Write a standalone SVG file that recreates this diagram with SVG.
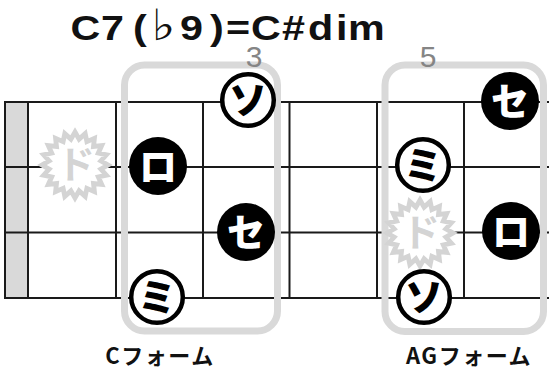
<svg xmlns="http://www.w3.org/2000/svg" width="549" height="369" viewBox="0 0 549 369">
<style>
.ln{stroke:#1a1a1a;stroke-width:2;fill:none}
.nut{fill:#d9d9d9}
.form{fill:none;stroke:#d9d9d9;stroke-width:7}
.fn{font-family:"Liberation Sans",Arial,sans-serif;font-size:30px;fill:#858585;text-anchor:middle}
.title{font-family:"Liberation Sans",Arial,sans-serif;font-weight:bold;font-size:35px;fill:#111}
.flat{font-family:"DejaVu Sans",sans-serif;font-weight:normal;font-size:43px}
.lbl{font-family:"Noto Sans CJK JP",sans-serif;font-weight:700;font-size:22px;fill:#111;text-anchor:middle;letter-spacing:1.5px}
.blk{fill:#000}
.wht{fill:#fff;stroke:#000;stroke-width:4.5}
.g{font-family:"Noto Sans CJK JP",sans-serif;font-weight:900;font-size:38px;text-anchor:middle}
.gw{fill:#fff}
.gb{fill:#000}
.star{fill:#fff;stroke:#d4d4d4;stroke-width:5}
.do{font-family:"Noto Sans CJK JP",sans-serif;font-weight:700;font-size:38px;fill:#d4d4d4;text-anchor:middle}
</style>
<defs>
<polygon id="burst" class="star" points="0,-34 4.22,-26.67 10.51,-32.34 12.26,-24.06 19.99,-27.51 19.09,-19.09 27.51,-19.99 24.06,-12.26 32.34,-10.51 26.67,-4.22 34,0 26.67,4.22 32.34,10.51 24.06,12.26 27.51,19.99 19.09,19.09 19.99,27.51 12.26,24.06 10.51,32.34 4.22,26.67 0,34 -4.22,26.67 -10.51,32.34 -12.26,24.06 -19.99,27.51 -19.09,19.09 -27.51,19.99 -24.06,12.26 -32.34,10.51 -26.67,4.22 -34,0 -26.67,-4.22 -32.34,-10.51 -24.06,-12.26 -27.51,-19.99 -19.09,-19.09 -19.99,-27.51 -12.26,-24.06 -10.51,-32.34 -4.22,-26.67"/>
</defs>
<rect width="549" height="369" fill="#fff"/>
<text class="title" y="40" transform="scale(1.18,1)"><tspan x="59.7">C</tspan><tspan x="85.6">7</tspan><tspan x="112.7">(</tspan><tspan x="128.5" class="flat">♭</tspan><tspan x="152.5">9</tspan><tspan x="178">)</tspan><tspan x="191.5">=</tspan><tspan x="212.7">C</tspan><tspan x="239">#</tspan><tspan x="261">d</tspan><tspan x="284.7">i</tspan><tspan x="295">m</tspan></text>
<g id="grid">
<rect class="nut" x="5" y="102" width="23" height="196"/>
<line class="ln" x1="4.5" y1="102" x2="549" y2="102"/>
<line class="ln" x1="4.5" y1="167" x2="549" y2="167"/>
<line class="ln" x1="4.5" y1="232.5" x2="549" y2="232.5"/>
<line class="ln" x1="4.5" y1="298" x2="549" y2="298"/>
<line class="ln" x1="5" y1="101" x2="5" y2="299"/>
<line class="ln" x1="28" y1="101" x2="28" y2="299"/>
<line class="ln" x1="116" y1="101" x2="116" y2="299"/>
<line class="ln" x1="203" y1="101" x2="203" y2="299"/>
<line class="ln" x1="289.5" y1="101" x2="289.5" y2="299"/>
<line class="ln" x1="377" y1="101" x2="377" y2="299"/>
<line class="ln" x1="464" y1="101" x2="464" y2="299"/>
</g>
<g id="form-c">
<rect class="form" x="124.5" y="65" width="153" height="266" rx="20"/>
<text class="fn" x="254" y="67">3</text>
<text class="lbl" x="160" y="364">Cフォーム</text>
</g>
<g id="form-ag">
<rect class="form" x="385" y="65" width="158.5" height="266.5" rx="20"/>
<text class="fn" x="428" y="67">5</text>
<text class="lbl" x="469" y="364">AGフォーム</text>
</g>
<g id="do-1">
<use href="#burst" transform="translate(75,165) scale(0.97)"/>
<text class="do" x="76" y="178">ド</text>
</g>
<g id="do-2">
<use href="#burst" transform="translate(420,233) scale(0.97)"/>
<text class="do" x="421" y="246">ド</text>
</g>
<g id="c-so">
<circle class="wht" cx="248" cy="100" r="25.8"/>
<text class="g gb" x="248" y="113.5">ソ</text>
</g>
<g id="c-ro">
<circle class="blk" cx="158" cy="166" r="29"/>
<text class="g gw" x="158" y="179.5">ロ</text>
</g>
<g id="c-se">
<circle class="blk" cx="246" cy="232" r="29"/>
<text class="g gw" x="246" y="245.5">セ</text>
</g>
<g id="c-mi">
<circle class="wht" cx="157" cy="297" r="25.8"/>
<text class="g gb" x="157" y="310.5">ミ</text>
</g>
<g id="ag-se">
<circle class="blk" cx="510" cy="101" r="29"/>
<text class="g gw" x="510" y="114.5">セ</text>
</g>
<g id="ag-mi">
<circle class="wht" cx="423" cy="165" r="25.8"/>
<text class="g gb" x="423" y="178.5">ミ</text>
</g>
<g id="ag-ro">
<circle class="blk" cx="511" cy="231" r="29"/>
<text class="g gw" x="511" y="244.5">ロ</text>
</g>
<g id="ag-so">
<circle class="wht" cx="424" cy="297" r="25.8"/>
<text class="g gb" x="424" y="310.5">ソ</text>
</g>
</svg>
